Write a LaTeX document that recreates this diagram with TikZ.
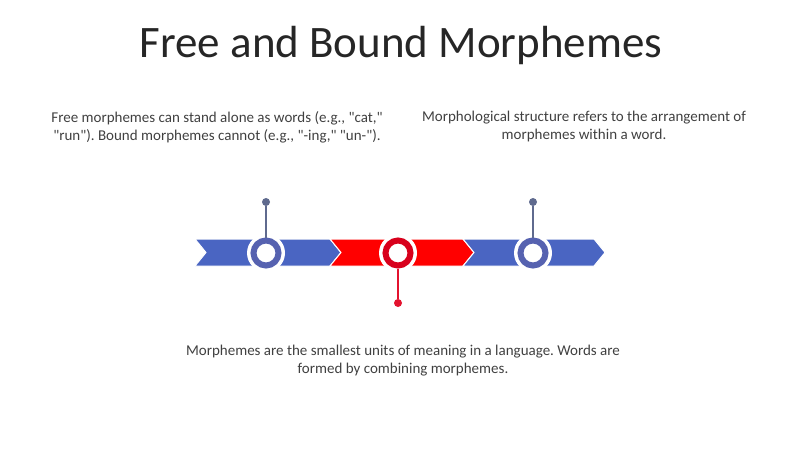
\documentclass[tikz,border=0pt]{standalone}
\usepackage{fontspec}
\usepackage{tikz}
\usepackage{xcolor}
\setmainfont{Carlito}[Ligatures=TeXOff]
\frenchspacing
\definecolor{bandblue}{HTML}{4A65C2}
\definecolor{ringblue}{HTML}{5662B0}
\definecolor{bandred}{HTML}{FF0000}
\definecolor{ringred}{HTML}{D8001C}
\definecolor{pinblue}{HTML}{5F6A8E}
\definecolor{pinred}{HTML}{E3132F}
\definecolor{txt}{HTML}{404040}
\tikzset{halo/.style={circle,fill=white,minimum size=38pt,inner sep=0pt},
 ring/.style={circle,fill=white,line width=6pt,minimum size=25pt,inner sep=0pt},
 pin/.style={line width=1.5pt},
 pindot/.style={circle,minimum size=8pt,inner sep=0pt},
 caption/.style={text=txt,font=\fontsize{15}{18}\selectfont,align=center},
 }
\begin{document}
\begin{tikzpicture}[x=1pt,y=-1pt]
        \useasboundingbox (0,0) rectangle (800,449);
        % title
        \node[text=black!85,font=\fontsize{45}{54}\selectfont] (title) at (401,46) {Free and Bound Morphemes};
        % chevron band
        \fill[bandblue,draw=white,line width=1pt] (195,239) -- (330,239) -- (341,252.5) -- (330,266) -- (195,266) -- (206,252.5) -- cycle;
        \fill[bandred,draw=white,line width=1pt] (330,239) -- (463,239) -- (474,252.5) -- (463,266) -- (330,266) -- (341,252.5) -- cycle;
        \fill[bandblue,draw=white,line width=1pt] (463,239) -- (594,239) -- (605,252.5) -- (594,266) -- (463,266) -- (474,252.5) -- cycle;
        % circles
        \node[halo] at (266,253) {};
        \node[halo] at (398,253) {};
        \node[halo] at (533,253) {};
        \node[ring,draw=ringblue] (free) at (266,253) {};
        \node[ring,draw=ringred] (bound) at (398,253) {};
        \node[ring,draw=ringblue] (struct) at (533,253) {};
        % pins
        \node[pindot,fill=pinblue] (freedot) at (266,202) {};
        \node[pindot,fill=pinred] (bounddot) at (398,303) {};
        \node[pindot,fill=pinblue] (structdot) at (533,202) {};
        \draw[pin,pinblue] (freedot) -- (free.north);
        \draw[pin,pinred] (bounddot) -- (bound.south);
        \draw[pin,pinblue] (structdot) -- (struct.north);
        % texts
        \node[caption] (freetext) at (217,127) {Free morphemes can stand alone as words (e.g., "cat,"\\"run"). Bound morphemes cannot (e.g., "-ing," "un-").};
        \node[caption] (structtext) at (584,127) {Morphological structure refers to the arrangement of\\morphemes within a word.};
        \node[caption] (boundtext) at (403,361) {Morphemes are the smallest units of meaning in a language. Words are\\formed by combining morphemes.};
    \end{tikzpicture}
\end{document}
